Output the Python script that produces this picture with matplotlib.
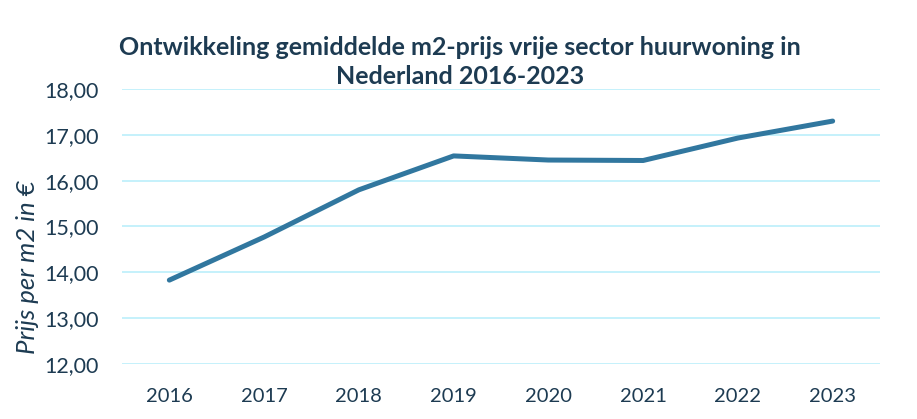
import matplotlib
matplotlib.use("Agg")
import matplotlib.pyplot as plt
from matplotlib.ticker import FixedLocator, FuncFormatter

years = ["2016", "2017", "2018", "2019", "2020", "2021", "2022", "2023"]
prices = [13.83, 14.77, 15.80, 16.54, 16.45, 16.44, 16.93, 17.30]
y_ticks = [12, 13, 14, 15, 16, 17, 18]

title = "Ontwikkeling gemiddelde m2-prijs vrije sector huurwoning in\nNederland 2016-2023"
y_label = "Prijs per m2 in €"

text_color = "#1d3b52"
line_color = "#31779f"
grid_color = "#c5f1fb"

plt.rcParams["font.family"] = ["Lato", "DejaVu Sans"]

fig = plt.figure(figsize=(9.17, 4.19), dpi=100)
ax = fig.add_axes([0.133, 0.1313, 0.8267, 0.6563])

x = list(range(len(years)))
ax.plot(x, prices, color=line_color, linewidth=3.6, solid_capstyle="round",
        solid_joinstyle="round", zorder=3)

ax.set_xlim(-0.5, len(years) - 0.5)
ax.set_ylim(12, 18)
ax.yaxis.set_major_locator(FixedLocator(y_ticks))
ax.yaxis.set_major_formatter(FuncFormatter(lambda v, p: f"{v:.2f}".replace(".", ",")))
ax.set_xticks(x)
ax.set_xticklabels(years)

ax.grid(axis="y", color=grid_color, linewidth=1.4, zorder=0)
ax.set_axisbelow(True)
for s in ax.spines.values():
    s.set_visible(False)
ax.tick_params(axis="both", length=0, colors=text_color)
ax.tick_params(axis="y", pad=16.5, labelsize=15.5)
ax.tick_params(axis="x", pad=17, labelsize=14.5)

fig.text(0.502, 0.852, title, ha="center", va="center", fontsize=18,
         fontweight="bold", color=text_color, linespacing=1.33)
fig.text(0.030, 0.363, y_label, rotation=90, ha="center", va="center",
         fontsize=18.5, fontstyle="italic", color=text_color)

fig.savefig("out.png", dpi=100)
